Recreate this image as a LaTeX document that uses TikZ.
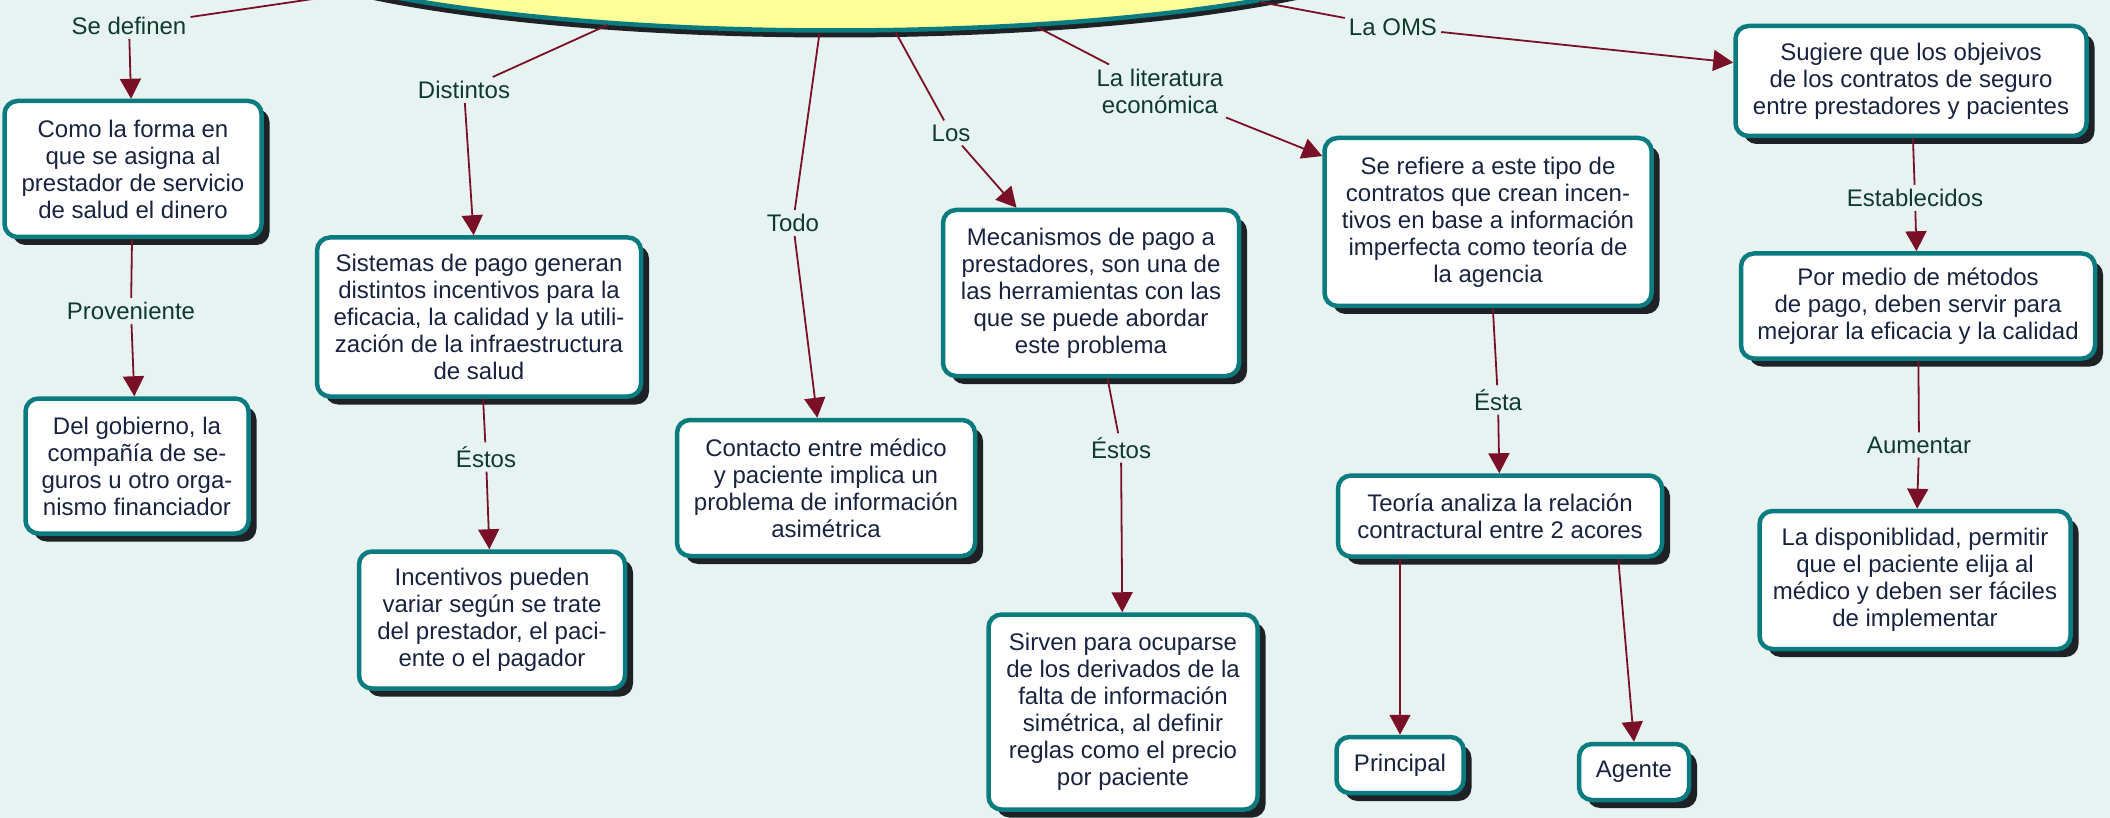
\documentclass[tikz,border=0pt]{standalone}
\usepackage{fontspec}
\setmainfont{Liberation Sans}
\usetikzlibrary{arrows.meta,shapes.geometric,shadows,calc}
\definecolor{bg}{HTML}{E7F3F0}
\definecolor{tealb}{HTML}{0A7C80}
\definecolor{shad}{HTML}{1E2226}
\definecolor{ylw}{HTML}{FFFF99}
\definecolor{lnk}{HTML}{7A1028}
\definecolor{txt}{HTML}{18233F}
\definecolor{lbl}{HTML}{0F3A2E}
\begin{document}
\begin{tikzpicture}[x=1pt,y=-1pt,
 concept/.style={draw=tealb, line width=4.5pt, fill=white, rounded corners=13pt, align=center, text=txt,
   font=\fontsize{24}{27}\selectfont, inner sep=4pt,
   drop shadow={shadow xshift=8pt, shadow yshift=-8pt, fill=shad, opacity=1}},
 phrase/.style={text=lbl, font=\fontsize{24}{27}\selectfont, align=center, inner sep=4pt},
 link/.style={draw=lnk, line width=1.8pt},
 arr/.style={link, -{Triangle[length=20pt,width=21pt]}},
]
\useasboundingbox (0,0) rectangle (2110,818);
\clip (0,0) rectangle (2110,818);
\fill[bg] (0,0) rectangle (2110,818);

% top concept (mostly outside the frame)
\node[ellipse, draw=tealb, line width=4.5pt, fill=ylw, minimum width=1221, minimum height=217,
  drop shadow={shadow xshift=0pt, shadow yshift=-7pt, fill=shad, opacity=1}] (top) at (835,-78) {};

% concepts
\node[concept, minimum width=257, minimum height=136] (A) at (133,169) {Como la forma en\\que se asigna al\\prestador de servicio\\de salud el dinero};
\node[concept, minimum width=223, minimum height=135] (B) at (137,466) {Del gobierno, la\\compañía de se-\\guros u otro orga-\\nismo financiador};
\node[concept, minimum width=324, minimum height=159] (C) at (479,317) {Sistemas de pago generan\\distintos incentivos para la\\eficacia, la calidad y la utili-\\zación de la infraestructura\\de salud};
\node[concept, minimum width=266, minimum height=137] (D) at (492,620) {Incentivos pueden\\variar según se trate\\del prestador, el paci-\\ente o el pagador};
\node[concept, minimum width=298, minimum height=136] (E) at (826,488) {Contacto entre médico\\y paciente implica un\\problema de información\\asimétrica};
\node[concept, minimum width=296, minimum height=166] (F) at (1091,293) {Mecanismos de pago a\\prestadores, son una de\\las herramientas con las\\que se puede abordar\\este problema};
\node[concept, minimum width=269, minimum height=195] (G) at (1123,712) {Sirven para ocuparse\\de los derivados de la\\falta de información\\simétrica, al definir\\reglas como el precio\\por paciente};
\node[concept, minimum width=327, minimum height=168] (H) at (1488,222) {Se refiere a este tipo de\\contratos que crean incen-\\tivos en base a información\\imperfecta como teoría de\\la agencia};
\node[concept, minimum width=324, minimum height=81] (I) at (1500,516) {Teoría analiza la relación\\contractural entre 2 acores};
\node[concept, minimum width=127, minimum height=56] (J) at (1400,765) {Principal};
\node[concept, minimum width=110, minimum height=56] (K) at (1634,772) {Agente};
\node[concept, minimum width=351, minimum height=110] (L) at (1911,81) {Sugiere que los objeivos\\de los contratos de seguro\\entre prestadores y pacientes};
\node[concept, minimum width=354, minimum height=105] (M) at (1918,306) {Por medio de métodos\\de pago, deben servir para\\mejorar la eficacia y la calidad};
\node[concept, minimum width=311, minimum height=138] (N) at (1915,580) {La disponiblidad, permitir\\que el paciente elija al\\médico y deben ser fáciles\\de implementar};

% linking phrases
\node[phrase] (sedef) at (129,26) {Se definen};
\node[phrase] (dist) at (464,90) {Distintos};
\node[phrase] (todo) at (793,223) {Todo};
\node[phrase] (los) at (951,133) {Los};
\node[phrase] (lit) at (1160,91) {La literatura\\económica};
\node[phrase] (oms) at (1393,27) {La OMS};
\node[phrase] (prov) at (131,311) {Proveniente};
\node[phrase] (est1) at (486,457) {Éstos};
\node[phrase] (est2) at (1121,448) {Éstos};
\node[phrase] (esta) at (1498,400) {Ésta};
\node[phrase] (estab) at (1915,198) {Establecidos};
\node[phrase] (aum) at (1919,445) {Aumentar};

% connectors
\draw[link] (top) -- (sedef); \draw[arr] (sedef) -- (A);
\draw[link] (top) -- (dist); \draw[arr] (dist) -- (C);
\draw[link] (top) -- (todo); \draw[arr] (todo) -- (E);
\draw[link] (top) -- (los); \draw[arr] (los) -- (F);
\draw[link] (top) -- (lit); \draw[arr] (lit) -- (H);
\draw[link] (top) -- (oms); \draw[arr] (oms) -- (L);
\draw[link] (A) -- (prov); \draw[arr] (prov) -- (B);
\draw[link] (C) -- (est1); \draw[arr] (est1) -- (D);
\draw[link] (F) -- (est2); \draw[arr] (est2) -- (G);
\draw[link] (H) -- (esta); \draw[arr] (esta) -- (I);
\draw[link] (L) -- (estab); \draw[arr] (estab) -- (M);
\draw[link] (M) -- (aum); \draw[arr] (aum) -- (N);
\draw[arr] (I.south -| J.north) -- (J.north);
\draw[arr] ($(I.south west)!0.86!(I.south east)$) -- (K.north);
\end{tikzpicture}
\end{document}
